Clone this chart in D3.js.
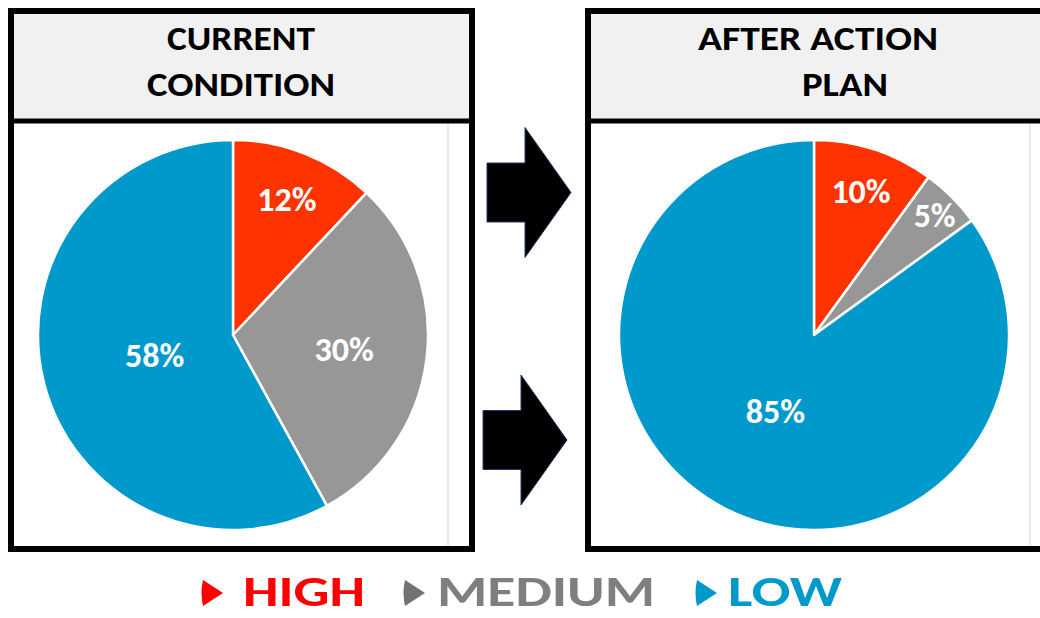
<!DOCTYPE html>
<html>
<head>
<meta charset="utf-8">
<script src="https://cdn.jsdelivr.net/npm/d3@7"></script>
<style>
  html, body { margin: 0; padding: 0; background: #fff; }
  svg { display: block; }
  text { font-family: Carlito, Lato, "Open Sans", sans-serif; font-weight: bold; }
</style>
</head>
<body>
<svg id="canvas"></svg>
<script>
const width = 1040;
const height = 618;

// dati
const categories = ["HIGH", "MEDIUM", "LOW"];
const currentValues = [12, 30, 58];
const afterValues = [10, 5, 85];
const currentTitle = ["CURRENT", "CONDITION"];
const afterTitle = ["AFTER ACTION", "PLAN"];

const sliceColors = ["#ff3300", "#979797", "#0099cc"];
const legendText = ["#ff0000", "#7f7f7f", "#0099cc"];
const legendMark = ["#ff0000", "#767171", "#0099cc"];

const svg = d3.select("#canvas")
  .attr("width", width)
  .attr("height", height);

const radius = 195;

const panels = [
  { x: 11, w: 461, cx: 233, title: currentTitle, titleX: [241, 241], values: currentValues,
    labelR: [0.75, 0.575, 0.415], titleW: [148, 188], inner: 448 },
  { x: 588, w: 470, cx: 814, title: afterTitle, titleX: [818, 845], values: afterValues,
    labelR: [0.78, 0.875, 0.435], titleW: [240, 86], inner: 1030 }
];

const panelTop = 11, panelH = 538, headerH = 110, cy = 335;

const pie = d3.pie().sort(null).value(d => d);
const arc = d3.arc().innerRadius(0).outerRadius(radius);

panels.forEach(p => {
  const g = svg.append("g");

  // area bianca + header grigio
  g.append("rect")
    .attr("x", p.x).attr("y", panelTop).attr("width", p.w).attr("height", panelH)
    .attr("fill", "#ffffff");
  g.append("rect")
    .attr("x", p.x).attr("y", panelTop).attr("width", p.w).attr("height", headerH)
    .attr("fill", "#f1f1f1");
  g.append("line")
    .attr("x1", p.inner).attr("x2", p.inner)
    .attr("y1", panelTop + headerH + 3).attr("y2", panelTop + panelH - 3)
    .attr("stroke", "#d4d4d4").attr("stroke-width", 1);

  // torta
  const arcs = pie(p.values);
  const pg = g.append("g").attr("transform", `translate(${p.cx},${cy})`);
  pg.selectAll("path")
    .data(arcs)
    .enter()
    .append("path")
    .attr("d", arc)
    .attr("fill", (d, i) => sliceColors[i])
    .attr("stroke", "#ffffff")
    .attr("stroke-width", 2.5)
    .attr("stroke-linejoin", "round");

  pg.selectAll("text")
    .data(arcs)
    .enter()
    .append("text")
    .attr("transform", (d, i) => {
      const r = radius * p.labelR[i];
      const a = (d.startAngle + d.endAngle) / 2;
      return `translate(${Math.sin(a) * r},${-Math.cos(a) * r})`;
    })
    .attr("text-anchor", "middle")
    .attr("dy", "0.36em")
    .attr("fill", "#ffffff")
    .style("font-size", "34px")
    .text(d => d.data + "%");

  // bordo + linea header
  g.append("line")
    .attr("x1", p.x).attr("x2", p.x + p.w)
    .attr("y1", panelTop + headerH).attr("y2", panelTop + headerH)
    .attr("stroke", "#000").attr("stroke-width", 5);
  g.append("rect")
    .attr("x", p.x).attr("y", panelTop).attr("width", p.w).attr("height", panelH)
    .attr("fill", "none")
    .attr("stroke", "#000")
    .attr("stroke-width", 6);

  p.title.forEach((t, i) => {
    g.append("text")
      .attr("x", p.titleX[i])
      .attr("y", 50 + i * 46)
      .attr("text-anchor", "middle")
      .attr("textLength", p.titleW[i])
      .attr("lengthAdjust", "spacingAndGlyphs")
      .attr("fill", "#000")
      .style("font-size", "34px")
      .text(t);
  });
});

// frecce
const arrows = [
  { x: 487, y: 192.5 },
  { x: 483, y: 440 }
];
const shaftW = 38, shaftH = 59, headW = 46, headH = 130;
svg.selectAll("path.arrow")
  .data(arrows)
  .enter()
  .append("path")
  .attr("class", "arrow")
  .attr("d", d => {
    const p = d3.path();
    p.moveTo(d.x, d.y - shaftH / 2);
    p.lineTo(d.x + shaftW, d.y - shaftH / 2);
    p.lineTo(d.x + shaftW, d.y - headH / 2);
    p.lineTo(d.x + shaftW + headW, d.y);
    p.lineTo(d.x + shaftW, d.y + headH / 2);
    p.lineTo(d.x + shaftW, d.y + shaftH / 2);
    p.lineTo(d.x, d.y + shaftH / 2);
    p.closePath();
    return p.toString();
  })
  .attr("fill", "#000")
  .attr("stroke", "#1f3864")
  .attr("stroke-width", 1);

// legenda
const legendX = d3.scaleOrdinal().domain(categories).range([203, 405, 697]);
const legendW = { HIGH: 122, MEDIUM: 218, LOW: 114 };
const lg = svg.append("g");
const items = lg.selectAll("g")
  .data(categories)
  .enter()
  .append("g")
  .attr("transform", d => `translate(${legendX(d)},0)`);

items.append("path")
  .attr("d", "M0,580 Q-3,593 0,606 L20,593 Z")
  .attr("fill", (d, i) => legendMark[i]);

items.append("text")
  .attr("x", (d, i) => [40, 32, 31][i])
  .attr("y", 606)
  .attr("textLength", d => legendW[d])
  .attr("lengthAdjust", "spacingAndGlyphs")
  .attr("fill", (d, i) => legendText[i])
  .style("font-size", "42px")
  .text(d => d);
</script>
</body>
</html>
